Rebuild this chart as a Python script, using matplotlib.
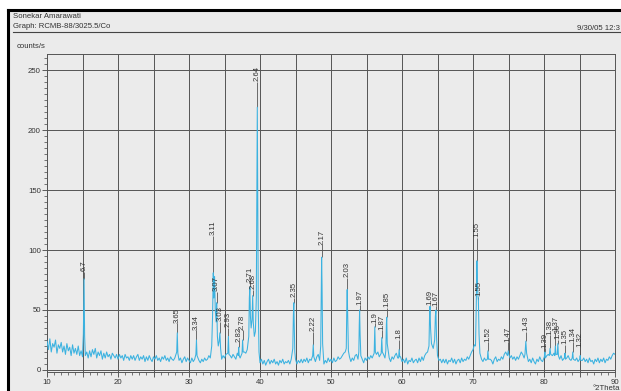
import numpy as np
import matplotlib
matplotlib.use('Agg')
import matplotlib.pyplot as plt
from matplotlib.ticker import MultipleLocator, FuncFormatter
from matplotlib.lines import Line2D
from matplotlib.patches import Rectangle

plt.rcParams['font.family'] = ['Liberation Sans', 'DejaVu Sans']

# background of the scan, read every 0.2 deg from 10 to 90 deg 2Theta
bg_start = 10.0
bg_step = 0.2
bg_counts = [
    24, 17, 26, 15, 22, 19, 25, 14, 21, 18,   # 10-12
    23, 15, 20, 13, 22, 16, 19, 12, 21, 14,   # 12-14
    18, 13, 20, 12, 16, 11, 17, 12, 15, 10,   # 14-16
    16, 11, 17, 13, 18, 10, 15, 12, 16, 9,    # 16-18
    14, 10, 15, 11, 13, 9, 14, 12, 10, 13,    # 18-20
    9, 13, 10, 12, 8, 13, 10, 11, 8, 12,      # 20-22
    9, 12, 8, 11, 13, 8, 11, 9, 12, 7,        # 22-24
    11, 8, 12, 9, 7, 11, 9, 12, 8, 10,        # 24-26
    7, 11, 9, 12, 8, 10, 7, 11, 9, 8,         # 26-28
    10, 7, 11, 8, 10, 6, 9, 11, 7, 10,        # 28-30
    8, 6, 10, 7, 9, 11, 7, 8, 6, 9,           # 30-32
    7, 10, 8, 9, 12, 10, 14, 16, 13, 11,      # 32-34
    13, 10, 14, 9, 12, 10, 13, 11, 9, 12,     # 34-36
    10, 13, 11, 9, 14, 12, 10, 13, 12, 15,    # 36-38
    14, 17, 19, 22, 24, 25, 24, 20, 13, 8,    # 38-40
    6, 9, 5, 8, 4, 7, 9, 5, 8, 6,             # 40-42
    9, 5, 7, 4, 8, 6, 9, 5, 7, 6,             # 42-44
    8, 5, 9, 7, 12, 9, 5, 8, 6, 9,            # 44-46
    6, 9, 7, 10, 6, 9, 8, 12, 10, 7,          # 46-48
    11, 13, 8, 6, 9, 5, 8, 6, 10, 7,          # 48-50
    9, 6, 10, 7, 8, 11, 9, 10, 12, 14,        # 50-52
    15, 12, 9, 11, 7, 10, 8, 12, 13, 9,       # 52-54
    11, 7, 9, 6, 10, 8, 11, 9, 12, 10,        # 54-56
    14, 10, 13, 15, 11, 14, 16, 13, 10, 12,   # 56-58
    8, 10, 7, 11, 9, 12, 14, 10, 8, 11,       # 58-60
    7, 9, 6, 10, 5, 8, 7, 10, 6, 8,           # 60-62
    9, 6, 10, 7, 11, 8, 12, 14, 15, 18,       # 62-64
    19, 15, 18, 20, 14, 10, 8, 9, 6, 9,       # 64-66
    6, 9, 5, 8, 7, 10, 6, 9, 5, 8,            # 66-68
    9, 6, 10, 7, 9, 8, 11, 9, 12, 15,         # 68-70
    17, 21, 18, 12, 10, 8, 9, 7, 10, 8,       # 70-72
    10, 6, 9, 8, 5, 9, 11, 7, 9, 8,           # 72-74
    11, 9, 13, 15, 12, 14, 10, 12, 9, 11,     # 74-76
    8, 11, 9, 12, 15, 13, 10, 8, 10, 7,       # 76-78
    9, 6, 10, 7, 5, 9, 7, 11, 8, 7,           # 78-80
    11, 8, 12, 13, 14, 10, 12, 14, 10, 13,    # 80-82
    11, 9, 12, 8, 11, 7, 10, 12, 9, 8,        # 82-84
    11, 13, 8, 10, 7, 10, 6, 8, 10, 7,        # 84-86
    9, 6, 10, 7, 8, 5, 9, 7, 10, 6,           # 86-88
    9, 7, 10, 6, 9, 8, 11, 9, 12, 14,         # 88-90
    13,
]

# peak profiles (2Theta, counts)
peak_pts = [
    (15.12, 30), (15.22, 76), (15.30, 28),
    (28.27, 15), (28.35, 31), (28.43, 14),
    (30.97, 13), (31.05, 25), (31.13, 12),
    (33.20, 20), (33.32, 45), (33.42, 81), (33.50, 60), (33.60, 78), (33.70, 50),
    (33.82, 40), (33.90, 56), (34.00, 28), (34.12, 20), (34.25, 24), (34.35, 31),
    (34.45, 18),
    (35.47, 14), (35.55, 28), (35.63, 13),
    (36.93, 12), (37.00, 19), (37.07, 12),
    (37.47, 14), (37.55, 25), (37.63, 15),
    (38.42, 28), (38.50, 60), (38.57, 69), (38.65, 45), (38.75, 35), (38.88, 42),
    (38.97, 62), (39.05, 40), (39.20, 28), (39.35, 32), (39.48, 60), (39.56, 150),
    (39.62, 219), (39.68, 150), (39.76, 50), (39.86, 15),
    (44.62, 18), (44.70, 45), (44.76, 56), (44.82, 40), (44.90, 15),
    (47.42, 12), (47.50, 21), (47.58, 11),
    (48.55, 20), (48.62, 60), (48.68, 94), (48.74, 70), (48.82, 22),
    (52.15, 18), (52.22, 50), (52.28, 67), (52.35, 45), (52.45, 16),
    (53.92, 15), (53.98, 38), (54.03, 50), (54.10, 30), (54.20, 12),
    (56.08, 14), (56.17, 36), (56.25, 15),
    (57.07, 14), (57.15, 27), (57.23, 15),
    (57.72, 16), (57.80, 38), (57.85, 44), (57.92, 22),
    (59.52, 10), (59.60, 17), (59.68, 11),
    (63.80, 20), (63.88, 45), (63.94, 53), (64.02, 35), (64.15, 22), (64.40, 18),
    (64.60, 25), (64.70, 45), (64.78, 50), (64.86, 28), (65.00, 12),
    (70.35, 20), (70.45, 50), (70.55, 91), (70.62, 70), (70.70, 62), (70.76, 58),
    (70.85, 30), (70.97, 14),
    (72.02, 9), (72.10, 16), (72.18, 9),
    (74.85, 12), (74.96, 16), (75.05, 13),
    (77.32, 13), (77.44, 24), (77.55, 14),
    (80.05, 11), (80.12, 15), (80.20, 10),
    (80.75, 12), (80.85, 18), (80.95, 13),
    (81.52, 12), (81.60, 20), (81.68, 13),
    (81.87, 13), (81.95, 22), (82.03, 12),
    (82.87, 10), (82.95, 14), (83.03, 9),
    (83.97, 10), (84.05, 15), (84.13, 9),
    (85.02, 9), (85.10, 12), (85.18, 8),
]

# labelled reflections: position, height, d-spacing label, label start (counts)
peak_pos = [15.22, 28.35, 31.05, 33.45, 33.90, 34.35, 35.55, 37.00, 37.55, 38.57,
            38.97, 39.62, 44.76, 47.50, 48.68, 52.28, 54.03, 56.17, 57.15, 57.85,
            59.60, 63.94, 64.78, 70.55, 70.76, 72.10, 74.96, 77.44, 80.12, 80.85,
            81.60, 81.95, 82.95, 84.05, 85.10]
peak_height = [76, 31, 25, 81, 56, 31, 28, 19, 25, 69,
               62, 219, 56, 21, 94, 67, 50, 36, 27, 44,
               17, 53, 50, 91, 58, 16, 16, 24, 15, 18,
               20, 22, 14, 15, 12]
peak_d = ['6.7', '3.65', '3.34', '3.11', '3.07', '3.03', '2.93', '2.82', '2.78', '2.71',
          '2.68', '2.64', '2.35', '2.22', '2.17', '2.03', '1.97', '1.9', '1.87', '1.85',
          '1.8', '1.69', '1.67', '1.55', '1.55', '1.52', '1.47', '1.43', '1.39', '1.38',
          '1.37', '1.36', '1.35', '1.34', '1.32']
label_base = [82, 39, 33, 112, 65, 40, 35, 23, 33, 73,
              67, 240, 60, 32, 104, 77, 54, 39, 33, 52,
              25, 54, 53, 110, 61, 23, 23, 32, 18, 29,
              32, 25, 21, 23, 19]

# merge background and peak points into one trace
bg_x = bg_start + bg_step * np.arange(len(bg_counts))
pk_x = np.array([p[0] for p in peak_pts])
pk_y = np.array([p[1] for p in peak_pts])
keep = np.array([np.min(np.abs(pk_x - x)) > 0.09 for x in bg_x])
two_theta = np.concatenate([bg_x[keep], pk_x])
counts = np.concatenate([np.array(bg_counts)[keep], pk_y])
order = np.argsort(two_theta)
two_theta = two_theta[order]
counts = counts[order]

W, H = 621, 391
fig = plt.figure(figsize=(W / 100, H / 100), dpi=100)
fig.patch.set_facecolor('white')

# scanned page with black frame on top and left
fig.patches.append(Rectangle((8 / W, 0), 1 - 8 / W, 1 - 10 / H, transform=fig.transFigure,
                             facecolor='#ebebeb', edgecolor='none', zorder=-2))
fig.lines.append(Line2D([8 / W, 1], [1 - 10 / H, 1 - 10 / H], transform=fig.transFigure,
                        color='black', lw=2.2, zorder=-1))
fig.lines.append(Line2D([8 / W, 8 / W], [0, 1 - 10 / H], transform=fig.transFigure,
                        color='black', lw=2.2, zorder=-1))
fig.lines.append(Line2D([13 / W, 1], [1 - 32 / H, 1 - 32 / H], transform=fig.transFigure,
                        color='#444444', lw=0.8, zorder=-1))

hdr = dict(fontsize=5.6, color='#333333', va='center')
fig.text(13 / W, 1 - 17 / H, 'Sonekar Amarawati', ha='left', **hdr)
fig.text(13 / W, 1 - 27 / H, 'Graph: RCMB-88/3025.5/Co', ha='left', **hdr)
fig.text(620 / W, 1 - 28 / H, '9/30/05 12:3', ha='right', **hdr)
fig.text(17 / W, 1 - 47 / H, 'counts/s', ha='left', **hdr)
fig.text(620 / W, 1 - 388.5 / H, '°2Theta', ha='right', **hdr)

y_lo, y_hi = -2, 263
ax_bottom = 1 - (370 - y_lo * 1.2) / H
ax_top = 1 - (370 - y_hi * 1.2) / H
ax = fig.add_axes([47 / W, ax_bottom, (615 - 47) / W, ax_top - ax_bottom])
ax.set_facecolor('#ebebeb')

ax.plot(two_theta, counts, color='#3bb2e0', lw=0.75, zorder=3)

ax.vlines(peak_pos, peak_height, label_base, color='#555555', lw=0.6, zorder=2)
for x, b, lab in zip(peak_pos, label_base, peak_d):
    ax.text(x, b + 0.5, lab, rotation=90, ha='center', va='bottom',
            fontsize=5.6, color='#333333', zorder=4)

ax.set_xlim(10, 90)
ax.set_ylim(y_lo, y_hi)
ax.xaxis.set_major_locator(MultipleLocator(5))
ax.xaxis.set_minor_locator(MultipleLocator(1))
ax.xaxis.set_major_formatter(FuncFormatter(lambda v, p: '%d' % v if round(v) % 10 == 0 else ''))
ax.yaxis.set_major_locator(MultipleLocator(50))
ax.yaxis.set_minor_locator(MultipleLocator(5))
ax.grid(which='major', color='#555555', lw=0.7, zorder=1)
ax.set_axisbelow(True)
ax.tick_params(which='major', direction='out', length=3.5, width=0.6, labelsize=5.6,
               colors='#444444', labelcolor='#333333', pad=1)
ax.tick_params(which='minor', direction='out', length=2, width=0.5, colors='#444444')
for s in ax.spines.values():
    s.set_color('#555555')
    s.set_linewidth(0.7)

fig.savefig('out.png', dpi=100, facecolor=fig.get_facecolor())
